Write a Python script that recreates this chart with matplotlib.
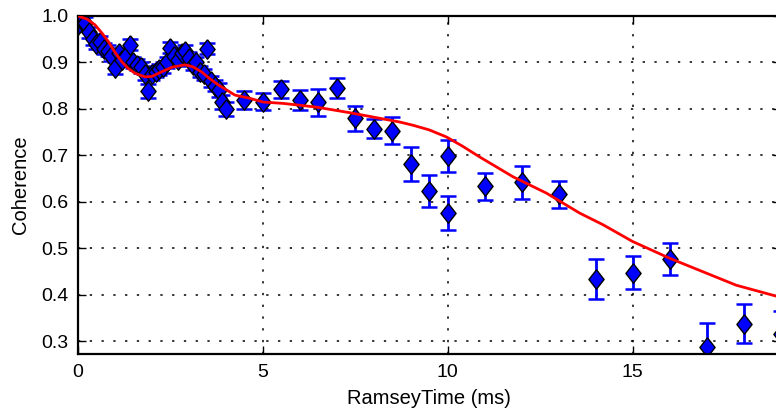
import matplotlib
matplotlib.use("Agg")
import matplotlib.pyplot as plt

plt.rcParams['font.family'] = ['Liberation Sans', 'DejaVu Sans']

# measured data
time_ms = [0.0, 0.1, 0.2, 0.3, 0.4, 0.5, 0.6, 0.7, 0.8, 0.9,
           1.0, 1.1, 1.2, 1.3, 1.4, 1.5, 1.6, 1.7, 1.8, 1.9,
           2.0, 2.1, 2.2, 2.3, 2.4, 2.5, 2.6, 2.7, 2.8, 2.9,
           3.0, 3.1, 3.2, 3.3, 3.4, 3.5, 3.6, 3.7, 3.8, 3.9, 4.0,
           4.5, 5.0, 5.5, 6.0, 6.5, 7.0, 7.5, 8.0, 8.5, 9.0, 9.5,
           10.0, 10.0, 11.0, 12.0, 13.0, 14.0, 15.0, 16.0, 17.0, 18.0, 19.0]
coherence = [0.98, 0.99, 0.985, 0.965, 0.95, 0.94, 0.945, 0.93, 0.925, 0.915,
             0.888, 0.92, 0.905, 0.915, 0.938, 0.90, 0.895, 0.89, 0.875, 0.838,
             0.875, 0.88, 0.885, 0.89, 0.90, 0.932, 0.915, 0.905, 0.92, 0.925,
             0.91, 0.895, 0.90, 0.88, 0.875, 0.93, 0.86, 0.85, 0.84, 0.815, 0.80,
             0.819, 0.816, 0.842, 0.819, 0.814, 0.845, 0.780, 0.758, 0.753, 0.682, 0.624,
             0.699, 0.576, 0.634, 0.642, 0.617, 0.434, 0.448, 0.477, 0.289, 0.338, 0.315]
coherence_err = [0.012, 0.012, 0.012, 0.012, 0.012, 0.012, 0.012, 0.012, 0.012, 0.012,
                 0.012, 0.012, 0.012, 0.012, 0.012, 0.012, 0.012, 0.012, 0.012, 0.015,
                 0.012, 0.012, 0.012, 0.012, 0.012, 0.012, 0.012, 0.012, 0.012, 0.012,
                 0.012, 0.012, 0.012, 0.012, 0.012, 0.012, 0.012, 0.012, 0.015, 0.015, 0.015,
                 0.020, 0.019, 0.019, 0.021, 0.030, 0.021, 0.027, 0.021, 0.029, 0.037, 0.035,
                 0.035, 0.036, 0.029, 0.036, 0.029, 0.043, 0.035, 0.035, 0.050, 0.042, 0.050]

# fitted curve
fit_time = [0.0, 0.25, 0.46, 0.65, 0.82, 1.0, 1.18, 1.36, 1.54, 1.81, 2.0, 2.26,
            2.55, 2.89, 3.1, 3.34, 3.55, 3.79, 4.1, 4.24, 4.65, 5.0, 5.55, 6.45,
            7.35, 8.16, 8.7, 9.06, 9.5, 9.96, 10.4, 10.86, 11.77, 12.67, 13.57, 14.2, 15.0,
            16.0, 16.9, 17.8, 18.86, 19.0]
fit_coherence = [1.0, 0.993, 0.981, 0.963, 0.945, 0.922, 0.902, 0.887, 0.877, 0.869,
                 0.870, 0.880, 0.890, 0.895, 0.891, 0.880, 0.866, 0.852, 0.837, 0.830,
                 0.823, 0.815, 0.812, 0.804, 0.792, 0.780, 0.772, 0.765, 0.755, 0.740,
                 0.720, 0.697, 0.654, 0.619, 0.576, 0.551, 0.515, 0.479, 0.450, 0.421,
                 0.398, 0.395]

x_ticks = [0, 5, 10, 15]
y_ticks = [0.3, 0.4, 0.5, 0.6, 0.7, 0.8, 0.9, 1.0]

W, H = 776, 416
fig = plt.figure(figsize=(W / 100, H / 100), dpi=100)
left, right, top, bottom = 78, 780.5, 16, 354
ax = fig.add_axes([left / W, (H - bottom) / H, (right - left) / W, (bottom - top) / H])

diamond = [(0, 1), (0.78, 0), (0, -1), (-0.78, 0), (0, 1)]
ax.errorbar(time_ms, coherence, yerr=coherence_err, fmt='none', ecolor='blue',
            elinewidth=2.0, capsize=5.5, capthick=1.8, zorder=2)
ax.plot(time_ms, coherence, linestyle='none', marker=diamond, ms=14,
        mfc='blue', mec='black', mew=1.0, zorder=2.5)
ax.plot(fit_time, fit_coherence, color='red', lw=2, zorder=3)

ax.set_xlim(0, 19)
ax.set_ylim(0.273, 1.0)
ax.set_xticks(x_ticks)
ax.set_yticks(y_ticks)
ax.set_xticklabels([str(t) for t in x_ticks])
ax.set_yticklabels([f"{t:.1f}" for t in y_ticks])

ax.grid(True, color='black', linestyle=(0, (1.5, 6.2)), linewidth=1.1)
ax.set_axisbelow(True)
for s in ax.spines.values():
    s.set_linewidth(1.6)
ax.tick_params(direction='in', length=6, width=1.0, top=True, right=True,
               labelsize=14, pad=7)

ax.set_xlabel('RamseyTime (ms)', fontsize=14.5, labelpad=6)
ax.set_ylabel('Coherence', fontsize=14.5, labelpad=8)

fig.savefig('out.png', dpi=100)
